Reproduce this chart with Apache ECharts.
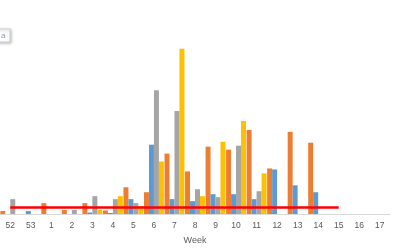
<!DOCTYPE html>
<html><head><meta charset="utf-8">
<script src="https://cdn.jsdelivr.net/npm/echarts@6/dist/echarts.min.js"></script>
<style>html,body{margin:0;padding:0;background:#fff}#c{width:400px;height:250px}</style>
</head><body><div id="c"></div>
<script>
const weeks = ['52','53','1','2','3','4','5','6','7','8','9','10','11','12','13','14','15','16','17'];
const seriesOrange = [0.6,0,2.2,0.8,2.2,0.7,5.4,4.4,12.2,8.6,13.6,13.0,17.0,9.2,16.6,14.4,null,null,null];
const seriesBlue   = [0,0.6,0,0,0.3,0.2,3.0,14.0,3.0,2.6,4.0,4.0,3.0,9.0,5.8,4.4,null,null,null];
const seriesGray   = [3.0,0,0,0.8,3.6,3.0,2.2,25.0,20.8,5.0,3.4,13.8,4.6,0,0,0,null,null,null];
const seriesYellow = [0,0,0,0,0.8,3.6,1.6,10.6,33.4,3.6,14.6,18.8,8.2,0,0,0,null,null,null];
const threshold    = [1.3,1.3,1.3,1.3,1.3,1.3,1.3,1.3,1.3,1.3,1.3,1.3,1.3,1.3,1.3,1.3,1.3,null,null];

const chart = echarts.init(document.getElementById('c'), null, {renderer:'canvas'});
const font = 'Liberation Sans';
function bar(name, data, color){
  return {name, type:'bar', data, barGap:'0%', barCategoryGap:'3%',
    itemStyle:{color}, silent:true, animation:false};
}
chart.setOption({
  animation:false,
  grid:{left:-1, right:10, top:16, bottom:31, containLabel:false},
  xAxis:{type:'category', data:weeks, name:'Week', nameLocation:'middle', nameGap:22,
    nameTextStyle:{color:'#595959', fontSize:9, fontFamily:font},
    axisLine:{lineStyle:{color:'#D9D9D9', width:1}}, axisTick:{show:false},
    axisLabel:{color:'#595959', fontSize:8.5, fontFamily:font, margin:7}},
  yAxis:{type:'value', min:0, max:40, show:false, splitLine:{show:false}},
  series:[
    bar('A', seriesOrange, '#ED7D31'),
    bar('B', seriesBlue, '#5B9BD5'),
    bar('C', seriesGray, '#A5A5A5'),
    bar('D', seriesYellow, '#FFC000'),
    {name:'Threshold', type:'line', data:threshold, symbol:'none', z:5,
      lineStyle:{color:'#FF0000', width:2.5}, silent:true}
  ],
  graphic:[
    {type:'rect', shape:{x:-20, y:29, width:30, height:13},
      style:{fill:'#fff', stroke:'#D0D0D0', lineWidth:1, shadowBlur:3, shadowColor:'rgba(0,0,0,0.25)', shadowOffsetX:1, shadowOffsetY:1}},
    {type:'text', style:{x:1, y:32, text:'a', fill:'#8497B0', font:'8px '+font}}
  ]
});
</script></body></html>
